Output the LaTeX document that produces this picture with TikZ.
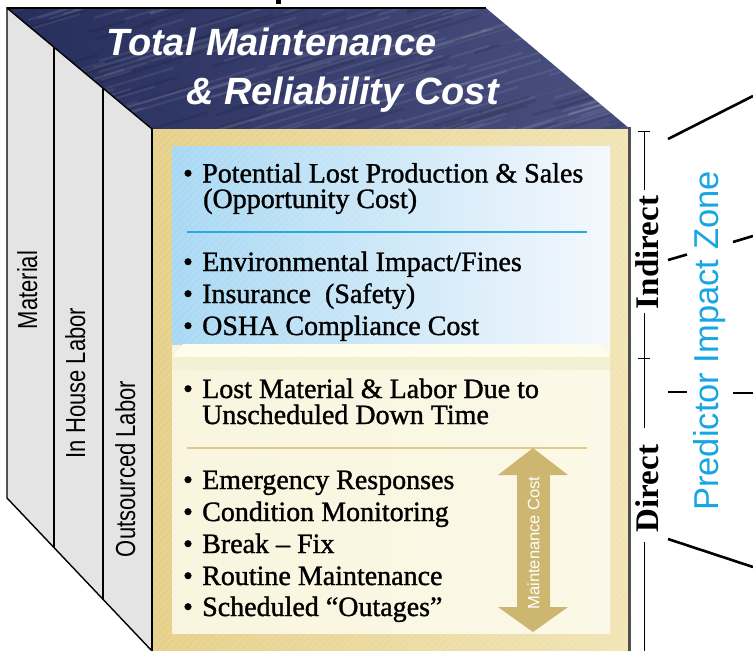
\documentclass[tikz,border=0pt]{standalone}
\usepackage{fontspec}
\setmainfont{Liberation Serif}
\setsansfont{Liberation Sans}
\newfontfamily\narrowsans[FakeStretch=0.8]{Liberation Sans}
\newfontfamily\bodyserif[Ligatures=TeX,FakeBold=1.2]{Liberation Serif}
\definecolor{sidegray}{RGB}{228,228,228}
\definecolor{navyA}{RGB}{38,46,92}
\definecolor{navyB}{RGB}{74,80,128}
\definecolor{tanA}{RGB}{230,208,138}
\definecolor{tanB}{RGB}{241,229,182}
\definecolor{blueA}{RGB}{168,216,243}
\definecolor{blueM}{RGB}{208,232,248}
\definecolor{blueB}{RGB}{244,248,253}
\definecolor{creamA}{RGB}{249,245,221}
\definecolor{creamB}{RGB}{251,248,231}
\definecolor{bevelTop}{RGB}{254,252,235}
\definecolor{bevelLow}{RGB}{244,240,210}
\definecolor{sepblue}{RGB}{39,169,225}
\definecolor{septan}{RGB}{224,202,132}
\definecolor{arrowtan}{RGB}{205,182,112}
\definecolor{zoneblue}{RGB}{22,166,228}
\definecolor{edgegray}{RGB}{80,80,80}
\tikzset{
  itemtext/.style={anchor=base west, inner sep=0pt, font=\bodyserif\fontsize{28}{28}\selectfont},
  bul/.style={anchor=base, inner sep=0pt, font=\bodyserif\fontsize{28}{28}\selectfont},
  titletext/.style={anchor=base west, inner sep=0pt, text=white, font=\sffamily\bfseries\itshape\fontsize{38}{38}\selectfont},
  sidelabel/.style={anchor=base, rotate=90, inner sep=0pt, font=\narrowsans\fontsize{27.5}{27.5}\selectfont},
  levellabel/.style={anchor=base, rotate=90, inner sep=0pt, font=\bfseries\fontsize{33}{33}\selectfont},
  fanline/.style={line width=2.6pt, black},
  bracketline/.style={line width=0.9pt, black},
}
\begin{document}
\begin{tikzpicture}[x=1pt,y=-1pt]
\useasboundingbox (0,0) rectangle (753,651);
\clip (0,0) rectangle (753,651);
% cut-off glyph at top
\fill[black] (276,0) rectangle (281,4);
% top face
\shade[left color=navyA, right color=navyB] (7,8) -- (486,8) -- (630,129) -- (152,129) -- cycle;
\begin{scope}
  \clip (7,8) -- (486,8) -- (630,129) -- (152,129) -- cycle;
  \pgfmathsetseed{11}
  \foreach \i in {1,...,140}{
    \pgfmathsetmacro{\xa}{random(-40,640)}
    \pgfmathsetmacro{\ya}{random(0,150)}
    \pgfmathsetmacro{\len}{random(30,140)}
    \draw[white, opacity=0.08, line width=2.2pt] (\xa,\ya) -- ++(\len,-0.3*\len);
  }
  \foreach \i in {1,...,70}{
    \pgfmathsetmacro{\xa}{random(-40,640)}
    \pgfmathsetmacro{\ya}{random(0,150)}
    \pgfmathsetmacro{\len}{random(30,120)}
    \draw[black, opacity=0.10, line width=2.5pt] (\xa,\ya) -- ++(\len,-0.3*\len);
  }
\end{scope}
\draw[black, line width=2pt] (7,8) -- (486,8);
% left face
\filldraw[fill=sidegray, draw=black, line width=1.4pt, line join=miter] (7,8) -- (152,129) -- (152,651) -- (7,498) -- cycle;
\draw[black, line width=1.4pt] (54,47) -- (54,547);
\draw[black, line width=1.4pt] (103,88) -- (103,600);
\node[sidelabel] (mat) at (37,290) {Material};
\node[sidelabel] (ihl) at (85,383) {In House Labor};
\node[sidelabel] (osl) at (135,469) {Outsourced Labor};
% front face
\shade[left color=tanA, right color=tanB] (152,129) rectangle (630,651);
\shade[left color=blueA, middle color=blueM, right color=blueB] (172,146) rectangle (610,345);
\shade[left color=creamA, right color=creamB] (172,345) rectangle (610,633);
\fill[bevelTop] (183,344) -- (600,344) -- (610,357) -- (172,357) -- cycle;
\fill[bevelLow] (172,357) rectangle (610,370);
\begin{scope}
  \clip (152,129) rectangle (630,651);
  \foreach \k in {-380,-373,...,640}{
    \draw[white, opacity=0.22, line width=0.6pt] (\k,651) -- (\k+522,129);
  }
\end{scope}
\draw[black, line width=1.4pt] (152,129) -- (152,651);
\draw[edgegray, line width=3pt] (629,127) -- (629,651);
% title
\node[titletext] (title1) at (106,55) {Total Maintenance};
\node[titletext] (title2) at (186,104) {\& Reliability Cost};
% separators
\draw[sepblue, line width=2pt] (187,232) -- (587,232);
\draw[septan, line width=2.4pt] (187,448) -- (587,448);
% maintenance cost arrow
\fill[arrowtan] (533,448) -- (568,475) -- (550,475) -- (550,607) -- (568,607) -- (533,632) -- (498,607) -- (517,607) -- (517,475) -- (498,475) -- cycle;
\node[rotate=90, inner sep=0pt, text=white, font=\sffamily\fontsize{16.5}{16.5}\selectfont] (mcost) at (533.5,543) {Maintenance Cost};
% items
\node[bul] (b1) at (188,182.5) {\textbullet};
\node[itemtext] (t1) at (202,182.5) {Potential Lost Production \& Sales};
\node[itemtext] (t1b) at (203,208) {(Opportunity Cost)};
\node[bul] (b2) at (188,271) {\textbullet};
\node[itemtext] (t2) at (202,271) {Environmental Impact/Fines};
\node[bul] (b3) at (188,303) {\textbullet};
\node[itemtext] (t3) at (202,303) {Insurance\ \ (Safety)};
\node[bul] (b4) at (188,335) {\textbullet};
\node[itemtext] (t4) at (202,335) {OSHA Compliance Cost};
\node[bul] (b5) at (188,398) {\textbullet};
\node[itemtext] (t5) at (202,398) {Lost Material \& Labor Due to};
\node[itemtext] (t5b) at (202,424) {Unscheduled Down Time};
\node[bul] (b6) at (188,489) {\textbullet};
\node[itemtext] (t6) at (202,489) {Emergency Responses};
\node[bul] (b7) at (188,521) {\textbullet};
\node[itemtext] (t7) at (202,521) {Condition Monitoring};
\node[bul] (b8) at (188,553) {\textbullet};
\node[itemtext] (t8) at (202,553) {Break -- Fix};
\node[bul] (b9) at (188,585) {\textbullet};
\node[itemtext] (t9) at (202,585) {Routine Maintenance};
\node[bul] (b10) at (188,616) {\textbullet};
\node[itemtext] (t10) at (202,616) {Scheduled ``Outages''};
% bracket
\coordinate (br0) at (644,131);
\coordinate (br1) at (644,190);
\coordinate (br2) at (644,313);
\coordinate (brm) at (644,358);
\coordinate (br3) at (644,428);
\coordinate (br4) at (644,542);
\coordinate (br5) at (644,651);
\draw[bracketline] (br0) -- (br1);
\draw[bracketline] (br2) -- (br3);
\draw[bracketline] (br4) -- (br5);
\draw[bracketline] ([xshift=-6pt]br0) -- ([xshift=6pt]br0);
\draw[bracketline] ([xshift=-6pt]brm) -- ([xshift=6pt]brm);
\node[levellabel] (indirect) at (658,252.5) {Indirect};
\node[levellabel] (direct) at (658,488.5) {Direct};
% predictor zone
\node[anchor=base, rotate=90, inner sep=0pt, text=zoneblue, font=\sffamily\fontsize{34.5}{34.5}\selectfont] (zone) at (718,341) {Predictor Impact Zone};
\coordinate (f1a) at (668,139); \coordinate (f1b) at (753,96);
\coordinate (f2a) at (668,260); \coordinate (f2b) at (687,254.5);
\coordinate (f2c) at (733,242); \coordinate (f2d) at (753,236);
\coordinate (f3a) at (668,392); \coordinate (f3b) at (687,392);
\coordinate (f3c) at (733,393); \coordinate (f3d) at (753,393);
\coordinate (f4a) at (668,539); \coordinate (f4b) at (753,567);
\draw[fanline] (f1a) -- (f1b);
\draw[fanline] (f2a) -- (f2b);
\draw[fanline] (f2c) -- (f2d);
\draw[fanline] (f3a) -- (f3b);
\draw[fanline] (f3c) -- (f3d);
\draw[fanline] (f4a) -- (f4b);
\end{tikzpicture}
\end{document}
